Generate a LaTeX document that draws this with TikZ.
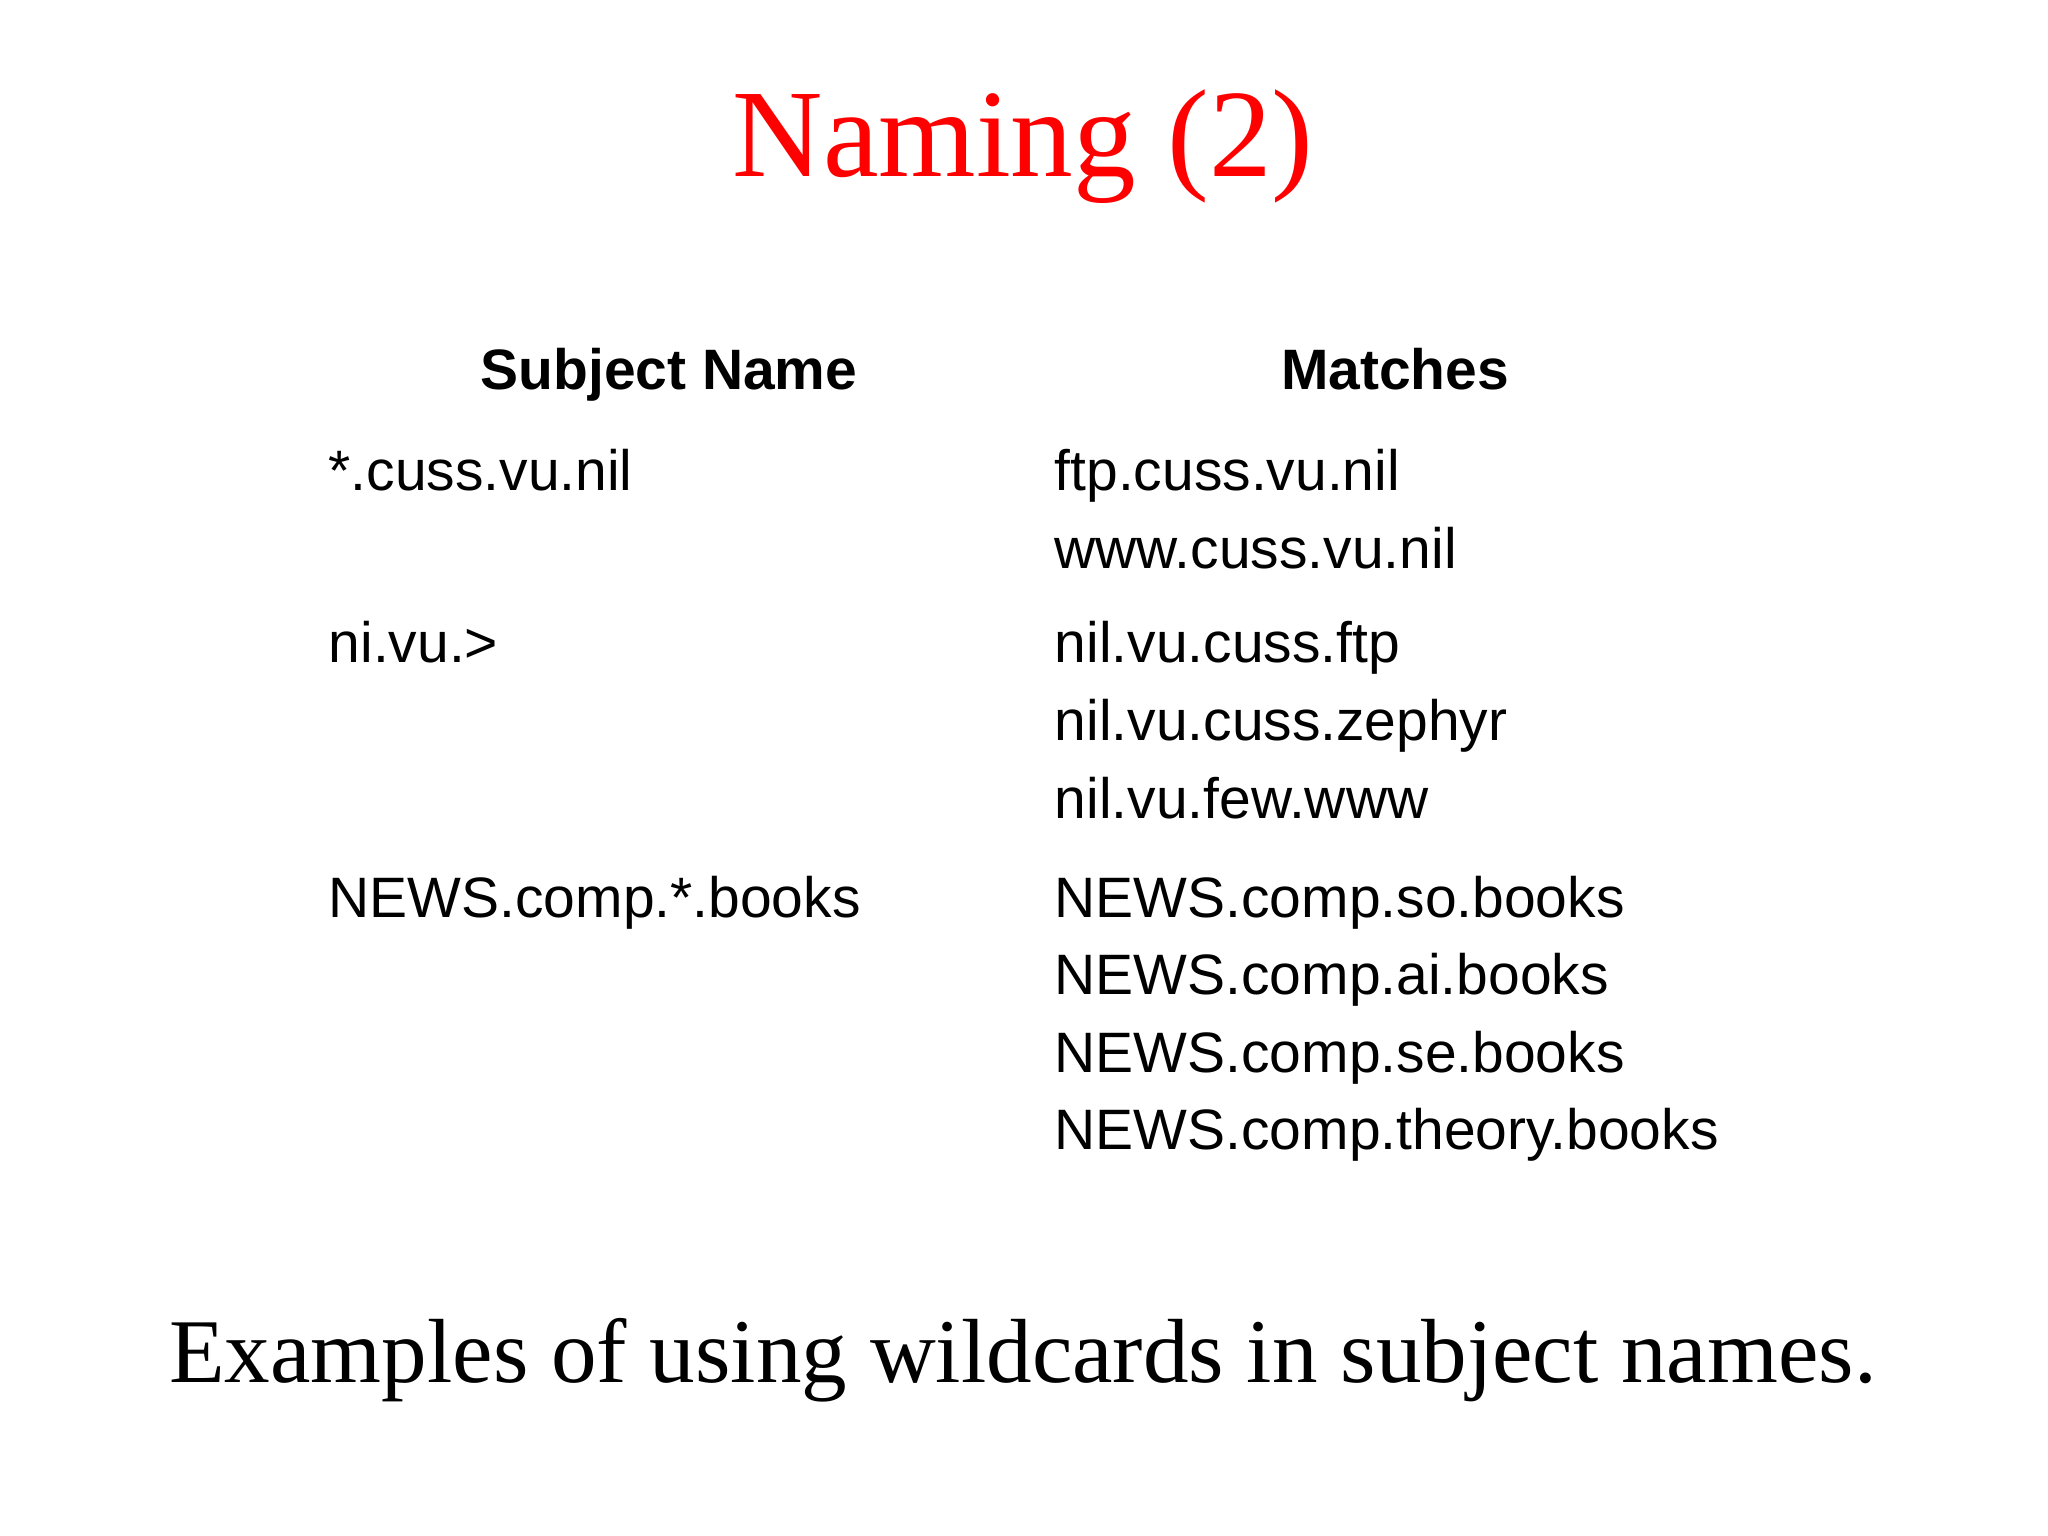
\documentclass[tikz,border=0pt]{standalone}
\usepackage{fontspec}
\setmainfont{Liberation Serif}
\setsansfont{Liberation Sans}
\begin{document}
\begin{tikzpicture}[x=0.01cm,y=-0.01cm,
  cell/.style={anchor=base west,inner sep=0pt,font=\sffamily\fontsize{16.2}{20}\selectfont},
  head/.style={anchor=base,inner sep=0pt,font=\sffamily\bfseries\fontsize{16.2}{20}\selectfont}]
\useasboundingbox (0,0) rectangle (2048,1536);
\node[anchor=base,inner sep=0pt,text=red,font=\fontsize{35.6}{40}\selectfont] (title) at (1023,176) {Naming (2)};
\node[head] (h1) at (669,389) {Subject Name};
\node[head] (h2) at (1395,389) {Matches};
\node[cell] (l1) at (328,490) {*.cuss.vu.nil};
\node[cell] (l2) at (328,662) {ni.vu.>};
\node[cell] (l3) at (328,917) {NEWS.comp.*.books};
\node[cell] (r1) at (1054,490) {ftp.cuss.vu.nil};
\node[cell] (r2) at (1054,568) {www.cuss.vu.nil};
\node[cell] (r3) at (1054,662) {nil.vu.cuss.ftp};
\node[cell] (r4) at (1054,740) {nil.vu.cuss.zephyr};
\node[cell] (r5) at (1054,818) {nil.vu.few.www};
\node[cell] (r6) at (1054,917) {NEWS.comp.so.books};
\node[cell] (r7) at (1054,994) {NEWS.comp.ai.books};
\node[cell] (r8) at (1054,1072) {NEWS.comp.se.books};
\node[cell] (r9) at (1054,1149) {NEWS.comp.theory.books};
\node[anchor=base,inner sep=0pt,font=\fontsize{25.9}{30}\selectfont] (cap) at (1023,1382) {Examples of using wildcards in subject names.};
\end{tikzpicture}
\end{document}
